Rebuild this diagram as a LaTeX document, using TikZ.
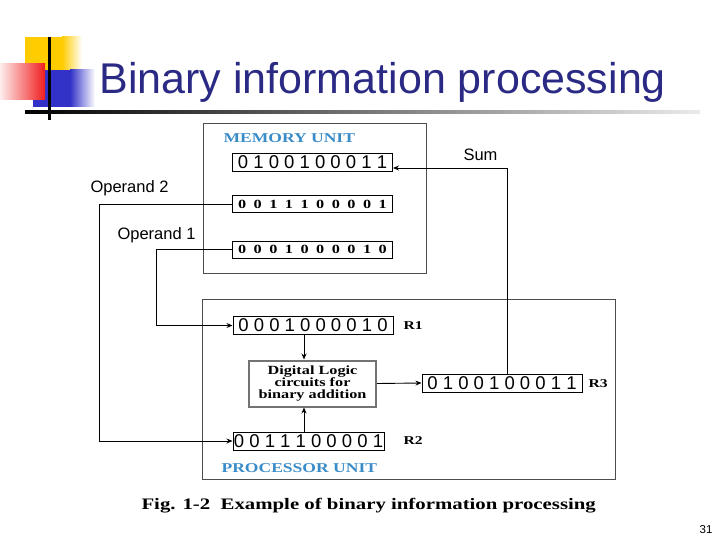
\documentclass[tikz,border=0pt]{standalone}
\usepackage{fontspec}
\setmainfont{Liberation Sans}
\newfontfamily\figfont[FakeStretch=1.3]{Liberation Serif}
\usepackage{xcolor}
\usepackage{tikz}
\usetikzlibrary{arrows.meta,calc,positioning}
\definecolor{titleblue}{RGB}{42,42,133}
\definecolor{unitblue}{RGB}{58,140,200}
\definecolor{decoyellow}{RGB}{255,204,0}
\definecolor{decoblue}{RGB}{50,50,200}
\definecolor{decored}{RGB}{240,30,30}

\begin{document}
\begin{tikzpicture}[x=1pt,y=-1pt,>={Stealth[length=6pt,width=5pt]},
  reg/.style={draw,line width=1pt,inner sep=0pt,minimum width=160pt,minimum height=18pt,font=\fontsize{18.5}{18.5}\selectfont},
  memreg/.style={reg,minimum height=17pt,font={\figfont\bfseries\fontsize{12.5}{12.5}\selectfont\spaceskip=7.5pt}},
  unit/.style={draw=black!70,line width=0.8pt,inner sep=0pt},
  logic/.style={draw=black!55,line width=2pt,fill=white,inner sep=0pt,minimum width=127pt,minimum height=46pt,align=center,font=\figfont\bfseries\fontsize{12.5}{12}\selectfont},
  tag/.style={anchor=west,font=\figfont\bfseries\fontsize{12}{12}\selectfont},
  unitname/.style={anchor=west,text=unitblue,font=\figfont\bfseries\fontsize{13.5}{13.5}\selectfont},
  lbl/.style={anchor=west,font=\fontsize{16.5}{16.5}\selectfont},
  link/.style={line width=0.9pt}]
\useasboundingbox (0,0) rectangle (720,540);
\fill[decoyellow] (25,37) rectangle (62,70);
\shade[left color=decoyellow,right color=white] (62,37) rectangle (82,70);
\fill[decoblue] (33,70) rectangle (70,107);
\shade[left color=decoblue,right color=white] (70,70) rectangle (95,107);
\shade[left color=decored!8,right color=decored] (0,64) rectangle (45,100);
\fill (47.5,37) rectangle (50.5,120);
\shade[left color=black,right color=black!8] (25,110.5) rectangle (700,113.5);
\node[anchor=base west,text=titleblue,font=\fontsize{43}{43}\selectfont] (title) at (96,94) {Binary information processing};
\node[unit,minimum width=223pt,minimum height=150pt] (memunit) at (314.5,198) {};
\node[unit,minimum width=413pt,minimum height=180pt] (procunit) at (408.5,389) {};
\node[unitname] (memname) at (220,138) {MEMORY UNIT};
\node[unitname] (procname) at (218,468) {PROCESSOR UNIT};
\node[reg] (m1) at (312.5,162.5) {0 1 0 0 1 0 0 0 1 1};
\node[memreg] (m2) at (312.5,204.5) {0 0 1 1 1 0 0 0 0 1};
\node[memreg] (m3) at (312.5,249.5) {0 0 0 1 0 0 0 0 1 0};
\node[reg] (r1) at (313,325.5) {0 0 0 1 0 0 0 0 1 0};
\node[reg] (r3) at (502,383) {0 1 0 0 1 0 0 0 1 1};
\node[reg,minimum width=151pt] (r2) at (308.5,441) {0 0 1 1 1 0 0 0 0 1};
\node[logic] (lg) at (312.5,383.5) {Digital Logic\\circuits for\\binary addition};
\node[tag] (t1) at (400,326) {R1};
\node[tag] (t2) at (400,441) {R2};
\node[tag] (t3) at (585,384) {R3};
\node[lbl] (sum) at (460,155) {Sum};
\node[lbl] (op2) at (87,188) {Operand 2};
\node[lbl] (op1) at (114,235) {Operand 1};
\node[anchor=base west,font=\figfont\bfseries\fontsize{16}{16}\selectfont] (cap) at (138,509) {Fig. 1-2\ \ Example of binary information processing};
\node[font=\fontsize{11.5}{11.5}\selectfont] (page) at (706,530) {31};
\coordinate (sumx) at (507,168);
\coordinate (op2x) at (99.5,0);
\coordinate (op1x) at (156,0);
\coordinate (midx) at (304,0);
\draw[link,->] (r3.north -| sumx) -- (sumx) -- (m1.east |- sumx);
\draw[link,->] (m2.west) -- (m2.west -| op2x) -- (r2.west -| op2x) -- (r2.west);
\draw[link,->] (m3.west) -- (m3.west -| op1x) -- (r1.west -| op1x) -- (r1.west);
\draw[link,->] (r1.south -| midx) -- (lg.north -| midx);
\draw[link,->] (r2.north -| midx) -- (lg.south -| midx);
\draw[link,->] (lg.east) -- (r3.west);
\end{tikzpicture}
\end{document}
